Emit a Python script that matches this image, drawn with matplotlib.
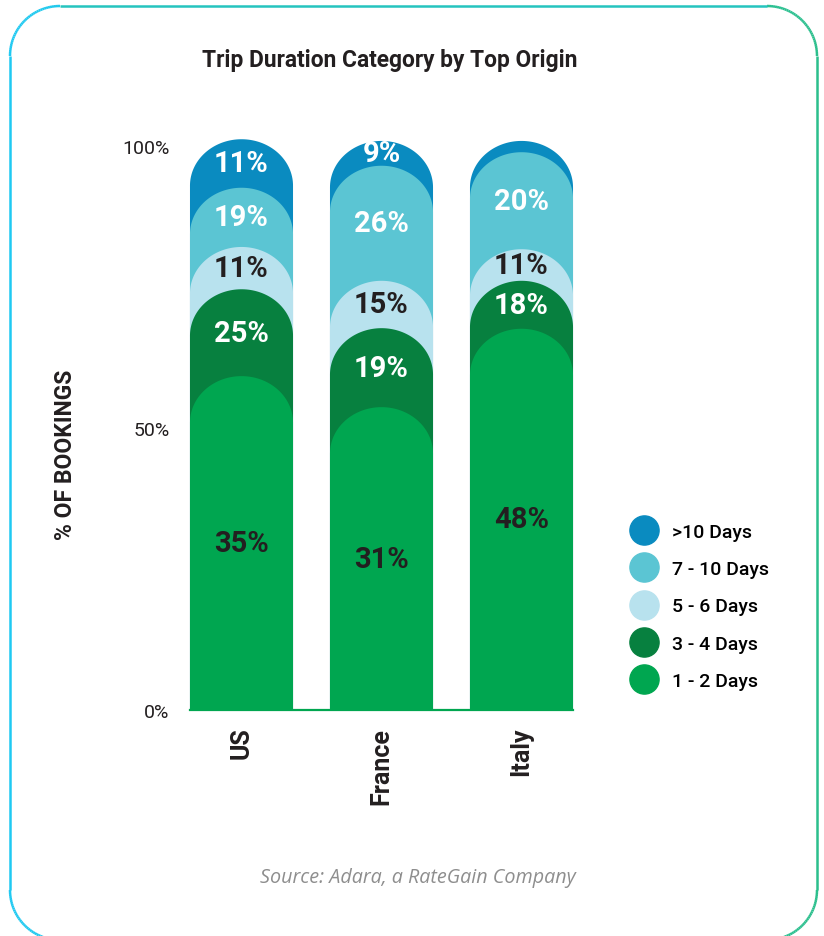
import numpy as np
import matplotlib.pyplot as plt
from matplotlib.patches import Polygon
from matplotlib.collections import LineCollection
from matplotlib.lines import Line2D

plt.rcParams['font.family'] = ['Roboto', 'DejaVu Sans']

origins = ['US', 'France', 'Italy']
durations = ['1 - 2 Days', '3 - 4 Days', '5 - 6 Days', '7 - 10 Days', '>10 Days']
colors = ['#00a650', '#07803f', '#b8e2ee', '#5bc5d3', '#0a8bc0']
label_colors = ['#231f20', 'white', '#231f20', 'white', 'white']

# printed shares (%) per duration, for US / France / Italy
share_1_2 = [35, 31, 48]
share_3_4 = [25, 19, 18]
share_5_6 = [11, 15, 11]
share_7_10 = [19, 26, 20]
share_10_plus = [11, 9, None]  # Italy's slice is not labelled

# segment heights as drawn in the graphic (read off the % axis, not to scale)
drawn_1_2 = [59.2, 53.7, 67.6]
drawn_3_4 = [15.4, 14.0, 8.5]
drawn_5_6 = [7.5, 8.4, 5.6]
drawn_7_10 = [10.5, 20.4, 17.2]
drawn_10_plus = [8.6, 4.4, 2.0]

shares = [share_1_2, share_3_4, share_5_6, share_7_10, share_10_plus]
drawn = np.array([drawn_1_2, drawn_3_4, drawn_5_6, drawn_7_10, drawn_10_plus])

W, H = 824, 937
fig = plt.figure(figsize=(W / 100, H / 100), dpi=100)

# background frame with a cyan -> green gradient outline
bg = fig.add_axes([0, 0, 1, 1], zorder=0)
bg.set_xlim(0, W)
bg.set_ylim(H, 0)
bg.axis('off')
x0, x1, y0, y1, r = 10, 817, 7, 941, 50
pts = []
for cx, cy, a0 in [(x1 - r, y0 + r, -90), (x1 - r, y1 - r, 0), (x0 + r, y1 - r, 90), (x0 + r, y0 + r, 180)]:
    a = np.radians(np.linspace(a0, a0 + 90, 40))
    pts.append(np.column_stack([cx + r * np.cos(a), cy + r * np.sin(a)]))
pts = np.vstack(pts + [pts[0][:1]])
segs = np.stack([pts[:-1], pts[1:]], axis=1)
c_left = np.array([0.12, 0.79, 0.95])
c_right = np.array([0.17, 0.75, 0.55])
t = (segs[:, :, 0].mean(axis=1) - x0) / (x1 - x0)
seg_cols = c_left[None, :] * (1 - t[:, None]) + c_right[None, :] * t[:, None]
bg.add_collection(LineCollection(segs, colors=seg_cols, linewidths=1.8))

# main axes
ax = fig.add_axes([171.5 / W, (H - 711) / H, 420 / W, 564 / H], zorder=1)
ax.set_facecolor('none')
ax.set_xlim(-0.5, 2.5)
ax.set_ylim(0, 100)
for s in ax.spines.values():
    s.set_visible(False)

bw = 0.736
px_x = 420 / 3
px_y = 564 / 100
cap = (bw / 2 * px_x * 0.9) / px_y


def capped_bar(xc, top, **kw):
    a = np.linspace(np.pi, 0, 80)
    xs = np.concatenate([[xc - bw / 2], xc + bw / 2 * np.cos(a), [xc + bw / 2]])
    ys = np.concatenate([[0], top - cap + cap * np.sin(a), [0]])
    return Polygon(np.column_stack([xs, ys]), closed=True, clip_on=False, lw=0, **kw)


tops = np.cumsum(drawn, axis=0)
bottoms = tops - drawn
for j in range(len(origins)):
    for i in reversed(range(len(durations))):
        ax.add_patch(capped_bar(j, tops[i, j], facecolor=colors[i], zorder=10 - i))
        val = shares[i][j]
        if val is not None:
            ax.text(j, (bottoms[i, j] + tops[i, j]) / 2, f'{val}%', ha='center', va='center',
                    fontsize=21, fontweight='bold', color=label_colors[i], zorder=20)

ax.plot([-bw / 2, 2 + bw / 2], [0, 0], color=colors[0], lw=1.6, zorder=0.5, clip_on=False)

ax.set_yticks([0, 50, 100], ['0%', '50%', '100%'])
ax.set_xticks(range(len(origins)), origins, rotation=90)
ax.tick_params(axis='y', length=0, pad=1.5, labelsize=14, labelcolor='#231f20')
ax.tick_params(axis='x', length=0, pad=12, labelsize=18, labelcolor='#231f20')
for lab in ax.get_xticklabels():
    lab.set_fontweight('bold')

handles = [Line2D([], [], ls='', marker='o', markersize=21, color=colors[i]) for i in reversed(range(5))]
ax.legend(handles, list(reversed(durations)), loc='upper left', bbox_to_anchor=(629 / W, 1 - 524 / H),
          bbox_transform=fig.transFigure, frameon=False, labelspacing=0.99,
          handlelength=1.5, handletextpad=0.7, borderpad=0, borderaxespad=0,
          prop={'weight': 'medium', 'size': 14})

fig.text(390 / W, 1 - 61 / H, 'Trip Duration Category by Top Origin', ha='center', va='center',
         fontsize=16.4, fontweight='bold', color='#231f20')
fig.text(65 / W, 1 - 455 / H, '% OF BOOKINGS', ha='center', va='center', rotation=90,
         fontsize=16.5, fontweight='bold', color='#231f20')
fig.text(418 / W, 1 - 878 / H, 'Source: Adara, a RateGain Company', ha='center', va='center',
         fontsize=14.2, style='italic', color='#8e8e8e', family=['Open Sans', 'DejaVu Sans'])

fig.savefig('out.png', dpi=100, facecolor='white')
